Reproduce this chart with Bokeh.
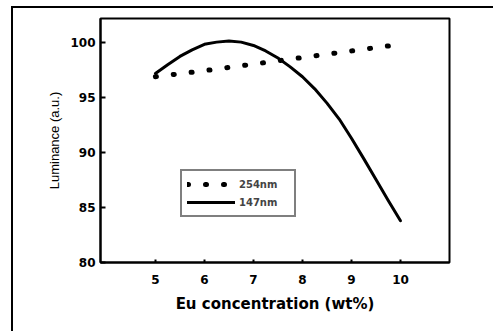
from bokeh.plotting import figure
from bokeh.models import Range1d, FixedTicker, Legend, LegendItem
from bokeh.embed import file_html
from bokeh.resources import INLINE

# Data
x_254 = [5, 6, 7, 8, 9, 10]
y_254 = [96.9, 97.45, 98.05, 98.65, 99.25, 99.85]

x_147 = [5.0, 5.25, 5.5, 5.75, 6.0, 6.25, 6.5, 6.75, 7.0, 7.25, 7.5, 7.75,
         8.0, 8.25, 8.5, 8.75, 9.0, 9.25, 9.5, 9.75, 10.0]
y_147 = [97.2, 98.0, 98.75, 99.35, 99.85, 100.05, 100.15, 100.05, 99.75, 99.25,
         98.6, 97.8, 96.9, 95.8, 94.5, 93.05, 91.3, 89.45, 87.55, 85.65, 83.8]

x_ticks = [5, 6, 7, 8, 9, 10]
y_ticks = [80, 85, 90, 95, 100]
label_254 = "254nm"
label_147 = "147nm"
x_title = "Eu concentration (wt%)"
y_title = "Luminance (a.u.)"

p = figure(width=482, height=325, output_backend="svg", toolbar_location=None,
           x_range=Range1d(3.88, 11.0), y_range=Range1d(80, 102.2),
           min_border_left=87, min_border_top=10, min_border_right=46,
           min_border_bottom=71)
p.styles = {"margin-left": "11px", "margin-top": "6px",
            "border-left": "2px solid black", "border-top": "2px solid black"}

p.grid.visible = False
p.background_fill_color = "white"
p.border_fill_color = "white"
p.outline_line_color = "black"
p.outline_line_width = 2

p.xaxis.ticker = FixedTicker(ticks=x_ticks)
p.yaxis.ticker = FixedTicker(ticks=y_ticks)
for ax in (p.xaxis, p.yaxis):
    ax.axis_line_width = 2
    ax.major_tick_out = 0
    ax.minor_tick_line_color = None
    ax.major_tick_line_width = 2
    ax.major_label_text_font = "DejaVu Sans"
    ax.major_label_text_font_style = "bold"
    ax.major_label_text_font_size = "12px"
    ax.major_label_text_color = "black"
    ax.axis_label_text_color = "black"
p.yaxis.major_tick_in = 5
p.xaxis.major_tick_in = 3
p.yaxis.major_label_standoff = 5
p.xaxis.major_label_standoff = 12

p.xaxis.axis_label = x_title
p.xaxis.axis_label_text_font = "DejaVu Sans"
p.xaxis.axis_label_text_font_style = "bold"
p.xaxis.axis_label_text_font_size = "15px"
p.xaxis.axis_label_standoff = 8

p.yaxis.axis_label = y_title
p.yaxis.axis_label_text_font = "Liberation Sans"
p.yaxis.axis_label_text_font_style = "normal"
p.yaxis.axis_label_text_font_size = "13px"
p.yaxis.axis_label_standoff = 5

r254 = p.line(x_254, y_254, line_color="black", line_width=5, line_dash="1 17",
              line_cap="round")
r147 = p.line(x_147, y_147, line_color="black", line_width=3, line_cap="round",
              line_join="round")

legend = Legend(items=[LegendItem(label=label_254, renderers=[r254]),
                       LegendItem(label=label_147, renderers=[r147])],
                location=(80, 45), padding=5, spacing=2, glyph_height=16,
                label_height=16, glyph_width=48, label_width=50,
                label_standoff=4, border_line_color="black",
                border_line_width=2, background_fill_color="white",
                background_fill_alpha=1.0,
                label_text_font="DejaVu Sans", label_text_font_style="bold",
                label_text_font_size="10px", margin=0)
p.add_layout(legend, "center")

open("out.html", "w").write(file_html(p, INLINE))
